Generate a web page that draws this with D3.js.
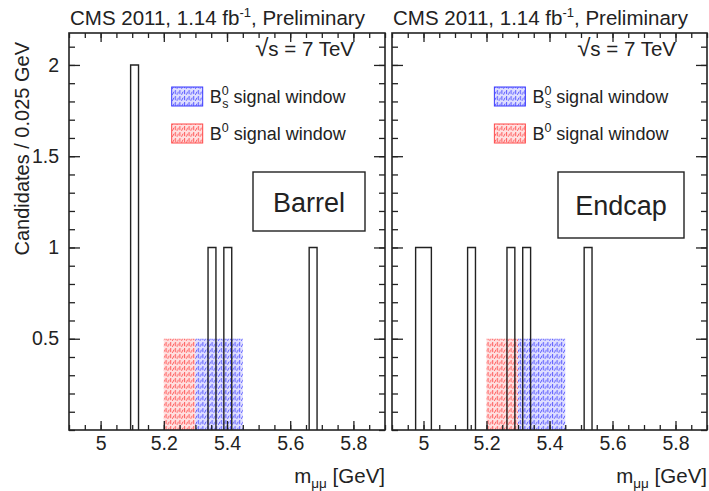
<!DOCTYPE html>
<html>
<head>
<meta charset="utf-8">
<script src="https://cdn.jsdelivr.net/npm/d3@7"></script>
<style>
  body { margin: 0; background: #fff; }
  text { font-family: "Liberation Sans", Arial, sans-serif; fill: #222; }
</style>
</head>
<body>
<svg id="chart" width="709" height="491"></svg>
<script>
// histogram bins: low edge (GeV) and candidates per 0.025 GeV
var binWidth = 0.025;
var barrelLow = [5.095, 5.34, 5.39, 5.66];
var barrelCounts = [2, 1, 1, 1];
var endcapLow = [4.975, 5.0, 5.14, 5.265, 5.315, 5.51];
var endcapCounts = [1, 1, 1, 1, 1, 1];

// signal windows [lo, hi] and drawn height
var b0Window = [5.20, 5.30];
var bsWindow = [5.30, 5.45];
var windowHeight = 0.5;

var xTicks = [5, 5.2, 5.4, 5.6, 5.8];
var yTicks = [0.5, 1, 1.5, 2];
var xDomain = [4.9, 5.9];
var yDomain = [0, 2.175];

var svg = d3.select("#chart");
var defs = svg.append("defs");

function hatch(id, col, bg) {
    var p = defs.append("pattern").attr("id", id)
        .attr("patternUnits", "userSpaceOnUse")
        .attr("width", 4.6).attr("height", 6);
    p.append("rect").attr("width", 4.6).attr("height", 6).attr("fill", bg);
    p.append("line").attr("x1", 0.6).attr("y1", 0).attr("x2", 0.6).attr("y2", 4.2)
        .attr("stroke", col).attr("stroke-width", 0.9);
    p.append("line").attr("x1", 2.2).attr("y1", 4.8).attr("x2", 3.8).attr("y2", 1.6)
        .attr("stroke", col).attr("stroke-width", 0.9);
}
hatch("hRed", "rgba(255,40,40,0.85)", "rgba(255,120,120,0.22)");
hatch("hBlue", "rgba(40,40,255,0.85)", "rgba(110,110,255,0.22)");

var plotTop = 33, plotBottom = 430;
var y = d3.scaleLinear().domain(yDomain).range([plotBottom, plotTop]);

var panels = [
    { left: 69, right: 385, low: barrelLow, counts: barrelCounts, label: "Barrel",
      box: [253, 172, 112, 59], showY: true },
    { left: 392, right: 707, low: endcapLow, counts: endcapCounts, label: "Endcap",
      box: [558, 172, 126, 66], showY: false }
];

function histPath(x, low, counts) {
    var p = d3.path();
    var prevHi = null, prevH = null;
    low.forEach(function (lo, i) {
        var hi = lo + binWidth, h = counts[i];
        if (prevHi !== null && Math.abs(prevHi - lo) < 1e-9 && prevH === h) {
            // merge with previous bin: extend top line
            p.lineTo(x(hi), y(h));
        } else {
            if (prevHi !== null) p.lineTo(x(prevHi), y(0));
            p.moveTo(x(lo), y(0));
            p.lineTo(x(lo), y(h));
            p.lineTo(x(hi), y(h));
        }
        prevHi = hi; prevH = h;
    });
    p.lineTo(x(prevHi), y(0));
    return p.toString();
}

panels.forEach(function (pn) {
    var x = d3.scaleLinear().domain(xDomain).range([pn.left, pn.right]);
    var g = svg.append("g");

    // signal windows
    g.append("rect").attr("x", x(b0Window[0])).attr("y", y(windowHeight))
        .attr("width", x(b0Window[1]) - x(b0Window[0]))
        .attr("height", y(0) - y(windowHeight)).attr("fill", "url(#hRed)");
    g.append("rect").attr("x", x(bsWindow[0])).attr("y", y(windowHeight))
        .attr("width", x(bsWindow[1]) - x(bsWindow[0]))
        .attr("height", y(0) - y(windowHeight)).attr("fill", "url(#hBlue)");

    // histogram
    g.append("path").attr("d", histPath(x, pn.low, pn.counts))
        .attr("fill", "none").attr("stroke", "#222").attr("stroke-width", 1.4);

    // axes (ticks pointing inward, mirrored)
    var minorX = d3.range(4.9, 5.9001, 0.05);
    var minorY = d3.range(0, 2.1501, 0.1);
    function ax(gen, sc, vals, size, tr, fmt) {
        var a = g.append("g").attr("transform", tr)
            .call(gen(sc).tickValues(vals).tickSizeInner(size).tickSizeOuter(0)
                .tickPadding(8).tickFormat(fmt || ""));
        a.select(".domain").remove();
        a.selectAll("line").attr("stroke", "#222").attr("stroke-width", 1.3);
        a.selectAll("text").attr("font-size", 19.5).attr("fill", "#333")
            .style("font-family", "Liberation Sans, Arial, sans-serif");
        return a;
    }
    ax(d3.axisBottom, x, minorX, -5, "translate(0," + plotBottom + ")");
    ax(d3.axisBottom, x, xTicks, -9, "translate(0," + plotBottom + ")", d3.format("")).selectAll("text").attr("dy", "0.6em");
    ax(d3.axisTop, x, minorX, -5, "translate(0," + plotTop + ")");
    ax(d3.axisTop, x, xTicks, -9, "translate(0," + plotTop + ")");
    ax(d3.axisLeft, y, minorY, -6, "translate(" + pn.left + ",0)");
    var ly = ax(d3.axisLeft, y, yTicks, -11, "translate(" + pn.left + ",0)", pn.showY ? d3.format("") : "");
    ly.selectAll("text").attr("dx", "-2px");
    ax(d3.axisRight, y, minorY, -6, "translate(" + pn.right + ",0)");
    ax(d3.axisRight, y, yTicks, -11, "translate(" + pn.right + ",0)");

    // frame
    g.append("rect").attr("x", pn.left).attr("y", plotTop)
        .attr("width", pn.right - pn.left).attr("height", plotBottom - plotTop)
        .attr("fill", "none").attr("stroke", "#222").attr("stroke-width", 1.6);

    // title
    var t = g.append("text").attr("x", pn.left + 1).attr("y", 25).attr("font-size", 20.5);
    t.append("tspan").text("CMS 2011, 1.14 fb");
    t.append("tspan").attr("dy", -8).attr("font-size", 13).text("-1");
    t.append("tspan").attr("dy", 8).text(", Preliminary");

    // sqrt(s)
    var s = g.append("text").attr("x", pn.right - 31).attr("y", 56)
        .attr("text-anchor", "end").attr("font-size", 20.5);
    s.append("tspan").attr("font-size", 24).text("\u221A");
    s.append("tspan").text("s = 7 TeV");

    // legend
    var lx = x(5.225), legendRows = [
        { fill: "url(#hBlue)", stroke: "#3a3aff", y: 87, sub: "s" },
        { fill: "url(#hRed)", stroke: "#ff4a4a", y: 124, sub: null }
    ];
    legendRows.forEach(function (r) {
        g.append("rect").attr("x", lx).attr("y", r.y).attr("width", 31).attr("height", 19)
            .attr("fill", r.fill).attr("stroke", r.stroke).attr("stroke-width", 1);
        var lt = g.append("text").attr("x", lx + 38).attr("y", r.y + 16).attr("font-size", 18);
        lt.append("tspan").text("B");
        lt.append("tspan").attr("dy", -8).attr("font-size", 12.5).text("0");
        if (r.sub) {
            lt.append("tspan").attr("x", lx + 38 + 12.5).attr("dy", 13).attr("font-size", 12.5).text("s");
            lt.append("tspan").attr("dx", 5).attr("dy", -5).text("signal window");
        } else {
            lt.append("tspan").attr("dx", 5).attr("dy", 8).text("signal window");
        }
    });

    // region label box
    g.append("rect").attr("x", pn.box[0]).attr("y", pn.box[1])
        .attr("width", pn.box[2]).attr("height", pn.box[3])
        .attr("fill", "#fff").attr("stroke", "#222").attr("stroke-width", 1.4);
    g.append("text").attr("x", pn.box[0] + pn.box[2] / 2).attr("y", pn.box[1] + pn.box[3] / 2 + 10)
        .attr("text-anchor", "middle").attr("font-size", 27).attr("fill", "#111").text(pn.label);

    // x axis title
    var xt = g.append("text").attr("x", pn.right).attr("y", 483)
        .attr("text-anchor", "end").attr("font-size", 20.5);
    xt.append("tspan").text("m");
    xt.append("tspan").attr("dy", 5).attr("font-size", 13.5).text("\u03bc\u03bc");
    xt.append("tspan").attr("dy", -5).text(" [GeV]");
});

// y axis title
svg.append("text").attr("transform", "translate(29,42) rotate(-90)")
    .attr("text-anchor", "end").attr("font-size", 20).text("Candidates / 0.025 GeV");
</script>
</body>
</html>
